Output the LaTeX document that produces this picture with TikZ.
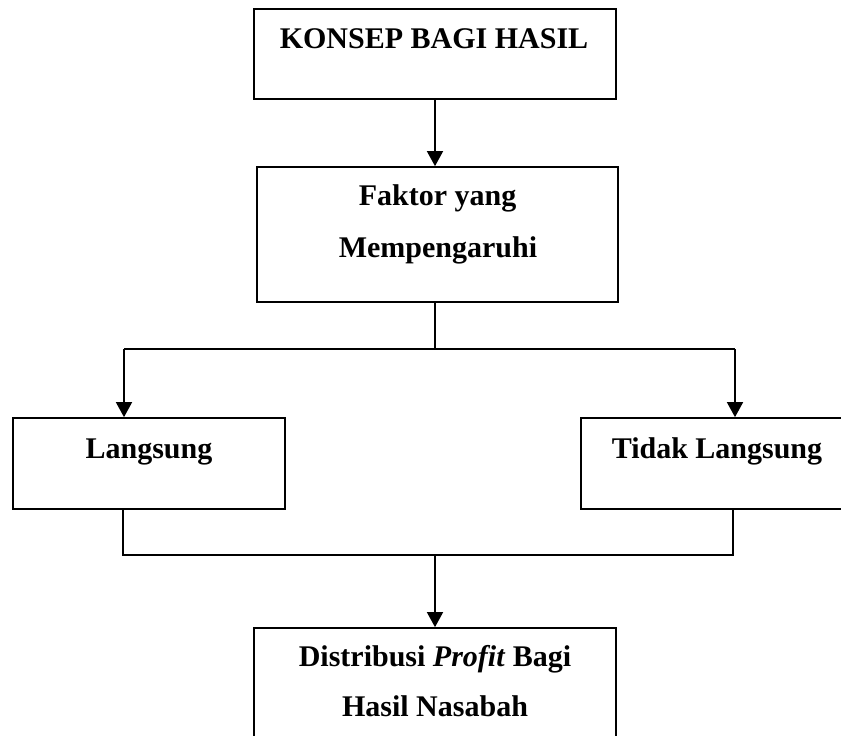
\documentclass[tikz,border=0pt]{standalone}
\usepackage{fontspec}
\setmainfont{Liberation Serif}
\usetikzlibrary{arrows.meta}

\tikzset{
	kotak/.style={draw, rectangle, line width=1.7pt, inner sep=0pt},
	teks/.style={anchor=base, inner sep=0pt},
	garis/.style={line width=1.6pt}
}

\begin{document}
\begin{tikzpicture}[x=1pt, y=-1pt, >={Triangle[length=15pt,width=16pt]}, font=\fontsize{30}{36}\selectfont\bfseries]
			% Bildbereich
			\useasboundingbox (0,0) rectangle (841,736);
			\clip (0,0) rectangle (841,736);
			% Kotak
			\node[kotak, minimum width=362, minimum height=90] (konsep) at (435,54) {};
			\node[kotak, minimum width=361, minimum height=135] (faktor) at (437.5,234.5) {};
			\node[kotak, minimum width=272, minimum height=91] (langsung) at (149,463.5) {};
			\node[kotak, minimum width=272, minimum height=91] (tidak) at (717,463.5) {};
			\node[kotak, minimum width=362, minimum height=135] (distribusi) at (435,695.5) {};
			% Beschriftung
			\node[teks] (tkonsep) at (434,48) {KONSEP BAGI HASIL};
			\node[teks] (tfaktor) at (437.5,205) {Faktor yang};
			\node[teks] (tpengaruh) at (438,257) {Mempengaruhi};
			\node[teks] (tlangsung) at (149,458) {Langsung};
			\node[teks] (ttidak) at (717,458) {Tidak Langsung};
			\node[teks] (tdistribusi) at (435,666) {Distribusi \textit{Profit} Bagi};
			\node[teks] (tnasabah) at (435,716) {Hasil Nasabah};
			% Titik cabang
			\coordinate (atas) at (435,349);
			\coordinate (kiri) at (124,349);
			\coordinate (kanan) at (735,349);
			\coordinate (bawahkiri) at (123,555);
			\coordinate (bawahkanan) at (733,555);
			\coordinate (bawah) at (435,555);
			% Pfeile
			\draw[->, garis] (konsep.south) -- (konsep.south |- faktor.north);
			\draw[garis] (faktor.south -| atas) -- (atas);
			\draw[garis] (kiri) -- (kanan);
			\draw[->, garis] (kiri) -- (kiri |- langsung.north);
			\draw[->, garis] (kanan) -- (kanan |- tidak.north);
			\draw[garis] (bawahkiri |- langsung.south) -- (bawahkiri) -- (bawahkanan) -- (bawahkanan |- tidak.south);
			\draw[->, garis] (bawah) -- (bawah |- distribusi.north);
		\end{tikzpicture}
\end{document}
